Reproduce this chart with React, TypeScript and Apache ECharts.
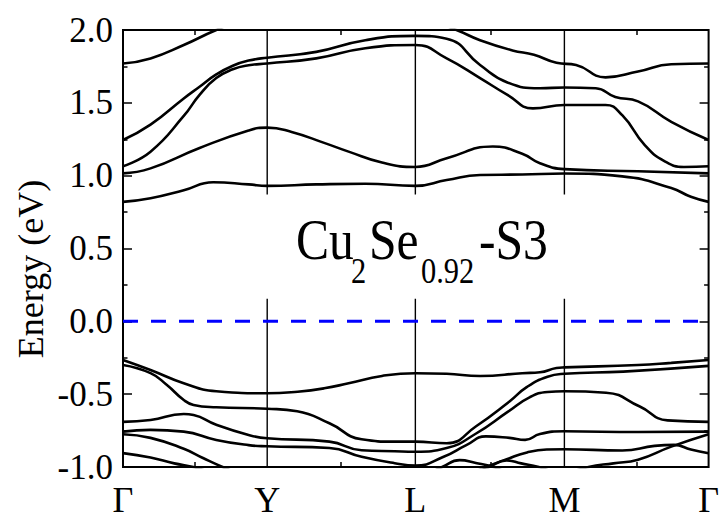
import React, { useEffect, useRef } from "react";
import * as echarts from "echarts";

// High-symmetry points (k-path distance) and their labels
const highSymK = [0, 0.985, 1.997, 3.015, 4];
const highSymLabels = ["Γ", "Y", "L", "M", "Γ"];
const minorTickK = [0.49, 1.49, 2.51, 3.51];

// Energy axis
const yMin = -1.0;
const yMax = 2.0;
const yInterval = 0.5;
const fermiLevel = 0.0;

// Conduction bands [k, E(eV)]
const bandC1 = [[0,0.82],[0.188,0.845],[0.415,0.90],[0.616,0.955],[0.858,0.94],[0.985,0.93],[1.32,0.94],[1.655,0.945],[1.997,0.93],[2.211,0.97],[2.439,1.005],[2.727,1.008],[3.015,1.015],[3.41,0.995],[3.745,0.915],[3.879,0.855],[4,0.82]];
const bandC2 = [[0,1.016],[0.188,1.05],[0.523,1.19],[0.858,1.31],[0.985,1.33],[1.152,1.30],[1.374,1.225],[1.541,1.165],[1.769,1.09],[1.997,1.06],[2.211,1.12],[2.526,1.20],[2.727,1.15],[2.848,1.085],[3.015,1.045],[3.518,1.03],[4,1.016]];
const bandC3 = [[0,1.065],[0.188,1.165],[0.415,1.41],[0.523,1.555],[0.637,1.67],[0.75,1.73],[0.858,1.758],[0.985,1.77],[1.32,1.805],[1.655,1.875],[1.997,1.897],[2.211,1.805],[2.439,1.67],[2.626,1.555],[2.8,1.462],[3.015,1.485],[3.296,1.485],[3.41,1.415],[3.564,1.21],[3.698,1.10],[3.832,1.06],[4,1.065]];
const bandC4 = [[0,1.245],[0.188,1.35],[0.415,1.53],[0.523,1.61],[0.637,1.695],[0.75,1.755],[0.858,1.79],[0.985,1.81],[1.32,1.85],[1.655,1.93],[1.997,1.96],[2.211,1.94],[2.439,1.76],[2.626,1.64],[2.848,1.60],[3.015,1.605],[3.229,1.60],[3.363,1.54],[3.518,1.51],[3.745,1.37],[4,1.245]];
const bandC5 = [[0,1.77],[0.188,1.805],[0.415,1.897],[0.637,2.0],[0.9,2.1],[1.5,2.15],[2.05,2.08],[2.278,2.0],[2.439,1.93],[2.66,1.86],[2.807,1.83],[2.961,1.775],[3.095,1.76],[3.296,1.675],[3.518,1.715],[3.745,1.765],[4,1.77]];

// Valence bands [k, E(eV)]
const bandV1 = [[0,-0.265],[0.188,-0.334],[0.415,-0.425],[0.637,-0.48],[0.985,-0.494],[1.193,-0.483],[1.374,-0.46],[1.541,-0.425],[1.769,-0.375],[1.997,-0.356],[2.211,-0.36],[2.439,-0.375],[2.727,-0.356],[2.848,-0.35],[2.961,-0.32],[3.015,-0.316],[3.518,-0.30],[3.745,-0.285],[4,-0.265]];
const bandV2 = [[0,-0.30],[0.188,-0.356],[0.30,-0.437],[0.415,-0.54],[0.482,-0.574],[0.637,-0.59],[0.985,-0.60],[1.19,-0.617],[1.41,-0.70],[1.63,-0.81],[1.856,-0.826],[1.997,-0.826],[2.211,-0.837],[2.412,-0.72],[2.64,-0.55],[2.76,-0.45],[2.9,-0.38],[3.015,-0.36],[3.417,-0.345],[4,-0.306]];
const bandV3 = [[0,-0.69],[0.188,-0.677],[0.415,-0.636],[0.482,-0.643],[0.637,-0.71],[0.858,-0.78],[0.985,-0.803],[1.41,-0.826],[1.63,-0.885],[1.856,-0.892],[1.997,-0.895],[2.211,-0.87],[2.412,-0.77],[2.63,-0.62],[2.78,-0.52],[2.9,-0.485],[3.015,-0.48],[3.3,-0.49],[3.53,-0.585],[3.72,-0.68],[4,-0.69]];
const bandV4 = [[0,-0.757],[0.188,-0.745],[0.415,-0.757],[0.637,-0.814],[0.858,-0.85],[0.985,-0.858],[1.41,-0.87],[1.63,-0.93],[1.856,-0.974],[1.997,-0.99],[2.19,-0.93],[2.345,-0.85],[2.479,-0.79],[2.64,-0.80],[2.747,-0.814],[2.848,-0.773],[3.015,-0.755],[3.518,-0.76],[4,-0.757]];
const bandV5Left = [[0,-0.775],[0.188,-0.80],[0.415,-0.875],[0.55,-0.94],[0.68,-1.0],[0.8,-1.05]];
const bandV5Mid = [[2.12,-1.03],[2.18,-1.0],[2.3,-0.953],[2.41,-0.972],[2.53,-1.0],[2.6,-1.03]];
const bandV6Left = [[0,-0.905],[0.188,-0.935],[0.35,-0.975],[0.48,-1.0],[0.6,-1.04]];
const bandV6Right = [[2.35,-1.06],[2.48,-1.0],[2.626,-0.945],[2.76,-0.9],[2.894,-0.88],[3.015,-0.878],[3.41,-0.887],[3.631,-0.855],[3.765,-0.848],[3.879,-0.88],[4,-0.905]];
const bandV7Mid = [[2.44,-1.03],[2.5,-1.0],[2.62,-0.955],[2.72,-0.975],[2.84,-1.0],[2.92,-1.03]];
const bandV7Right = [[3.0,-1.06],[3.18,-1.0],[3.35,-0.975],[3.518,-0.95],[3.745,-0.86],[4,-0.775]];

const bands = [bandC1, bandC2, bandC3, bandC4, bandC5, bandV1, bandV2, bandV3, bandV4, bandV5Left, bandV5Mid, bandV6Left, bandV6Right, bandV7Mid, bandV7Right];

// Vertical high-symmetry lines are interrupted around the label
const vlineGap = [0.155, 0.87];

const FONT = "Liberation Serif, Times New Roman, serif";

export default function App() {
  const ref = useRef<HTMLDivElement>(null);
  useEffect(() => {
    if (!ref.current) return;
    const chart = echarts.init(ref.current, undefined, { renderer: "svg" });

    const series: any[] = [];
    bands.forEach((b) => {
      series.push({
        type: "line",
        data: b,
        smooth: 0.5,
        symbol: "none",
        showSymbol: false,
        clip: true,
        silent: true,
        lineStyle: { color: "#000", width: 2.6 },
      });
    });
    highSymK.slice(1, 4).forEach((k) => {
      series.push({
        type: "line",
        data: [[k, yMax], [k, vlineGap[1]]],
        symbol: "none",
        silent: true,
        lineStyle: { color: "#000", width: 1.4 },
      });
      series.push({
        type: "line",
        data: [[k, vlineGap[0]], [k, yMin]],
        symbol: "none",
        silent: true,
        lineStyle: { color: "#000", width: 1.4 },
      });
    });
    series.push({
      type: "line",
      data: [[highSymK[0], fermiLevel], [highSymK[highSymK.length - 1], fermiLevel]],
      symbol: "none",
      silent: true,
      z: 5,
      lineStyle: { color: "#0000ff", width: 3, type: [15, 13] },
    });

    const labelFor = (v: number) => {
      const i = highSymK.findIndex((k) => Math.abs(k - v) < 1e-6);
      return i >= 0 ? highSymLabels[i] : "";
    };

    const xCommon = {
      type: "value",
      min: highSymK[0],
      max: highSymK[highSymK.length - 1],
      axisLine: { show: false, onZero: false },
      splitLine: { show: false },
      axisTick: {
        show: true,
        inside: true,
        length: 5,
        customValues: minorTickK,
        lineStyle: { color: "#000", width: 1.5 },
      },
    };
    const yCommon = {
      type: "value",
      min: yMin,
      max: yMax,
      interval: yInterval,
      axisLine: { show: false, onZero: false },
      splitLine: { show: false },
      axisTick: { show: true, inside: true, length: 9, lineStyle: { color: "#000", width: 1.5 } },
      minorTick: { show: true, splitNumber: 2, length: 4.5, lineStyle: { color: "#000", width: 1.5 } },
      minorSplitLine: { show: false },
    };

    const txt = (text: string, x: number, y: number, size: number) => ({
      type: "text",
      x,
      y,
      scaleX: 0.87,
      silent: true,
      style: {
        text,
        fontFamily: FONT,
        fontSize: size,
        fill: "#000",
        align: "left",
        verticalAlign: "middle",
      },
    });

    chart.setOption({
      animation: false,
      backgroundColor: "#fff",
      grid: {
        left: 123,
        top: 30,
        right: 2,
        bottom: 52,
        show: true,
        borderColor: "#000",
        borderWidth: 2,
        backgroundColor: "transparent",
      },
      xAxis: [
        {
          ...xCommon,
          position: "bottom",
          axisLabel: {
            show: true,
            customValues: highSymK,
            formatter: (v: number) => labelFor(v),
            fontFamily: FONT,
            fontSize: 36,
            color: "#000",
            margin: 15,
            showMinLabel: true,
            showMaxLabel: true,
          },
        },
        { ...xCommon, position: "top", axisLabel: { show: false } },
      ],
      yAxis: [
        {
          ...yCommon,
          position: "left",
          axisLabel: {
            formatter: (v: number) => v.toFixed(1),
            fontFamily: FONT,
            fontSize: 35,
            color: "#000",
            margin: 10,
          },
        },
        { ...yCommon, position: "right", axisLabel: { show: false } },
      ],
      graphic: [
        {
          type: "text",
          x: 31,
          y: 269,
          rotation: Math.PI / 2,
          silent: true,
          style: {
            text: "Energy (eV)",
            fontFamily: FONT,
            fontSize: 36,
            fill: "#000",
            align: "center",
            verticalAlign: "middle",
          },
        },
        txt("Cu", 296, 240, 57),
        txt("2", 351, 271.5, 35),
        txt("Se", 369, 240, 57),
        txt("0.92", 421, 271.5, 35),
        txt("-S3", 479, 240, 57),
      ],
      series,
    });
    return () => chart.dispose();
  }, []);
  return (
    <div
      ref={ref}
      style={{ position: "fixed", left: 0, top: 0, width: 722, height: 519, background: "#fff" }}
    />
  );
}
